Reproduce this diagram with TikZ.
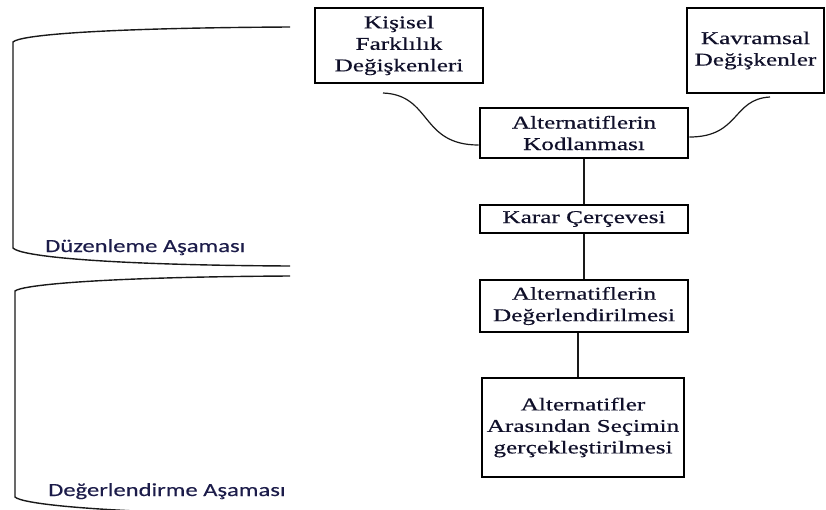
\documentclass[tikz,border=0pt]{standalone}
\usepackage{fontspec}
\setmainfont{Liberation Serif}
\newfontfamily\boxfont[FakeStretch=1.4,FakeBold=0.5]{Liberation Serif}
\newfontfamily\phasefont[FakeStretch=1.33,FakeBold=0.3]{Carlito}
\definecolor{ink}{HTML}{10102A}
\definecolor{phaseink}{HTML}{1C1C4A}

\tikzset{
  stage/.style={draw=black, line width=2.8pt, fill=white, align=center,
    inner sep=1pt, text=ink, font=\boxfont\fontsize{18}{21.5}\selectfont},
  link/.style={line width=1.2pt, draw=black!90},
  brace/.style={line width=1.4pt, draw=black!90},
  phase/.style={anchor=base west, inner sep=0pt, text=phaseink,
    font=\phasefont\fontsize{18.5}{20}\selectfont}
}

\begin{document}
\begin{tikzpicture}[x=1pt, y=-1pt]
\useasboundingbox (0,0) rectangle (826,509);
\clip (0,0) rectangle (826,509);

% boxes of the decision process
\node[stage, minimum width=168pt, minimum height=75pt] (kisisel) at (399,45.5)
  {Kişisel\\Farklılık\\Değişkenleri};
\node[stage, minimum width=137pt, minimum height=85pt] (kavramsal) at (755.5,50.5)
  {Kavramsal\\Değişkenler};
\node[stage, minimum width=208pt, minimum height=50pt] (kodlama) at (584,133)
  {Alternatiflerin\\Kodlanması};
\node[stage, minimum width=208pt, minimum height=28pt] (karar) at (584,219)
  {Karar Çerçevesi};
\node[stage, minimum width=208pt, minimum height=52pt] (deger) at (584,306)
  {Alternatiflerin\\Değerlendirilmesi};
\node[stage, minimum width=202pt, minimum height=99pt] (secim) at (583,427.5)
  {Alternatifler\\Arasından Seçimin\\gerçekleştirilmesi};

% curved feeds into the coding step
\coordinate (kfTail) at (383,93);
\coordinate (kvTail) at (770,97);
\draw[link] (kfTail) .. controls (432,95) and (420,145) .. ([yshift=-12pt]kodlama.west);
\draw[link] (kvTail) .. controls (732,99) and (740,137) .. ([yshift=-4pt]kodlama.east);

% vertical chain
\draw[link] (kodlama.south) -- (karar.north);
\draw[link] (karar.south) -- (deger.north);
\draw[link] ([xshift=-6pt]deger.south) -- ([xshift=-6pt]deger.south |- secim.north);

% phase brackets
\draw[brace] (290,27) .. controls (100,28) and (20,35) .. (13,42)
  -- (13,248) .. controls (20,256) and (100,265) .. (290,266);
\draw[brace] (290,276) .. controls (100,277) and (22,285) .. (15,291)
  -- (15,497) .. controls (22,504) and (100,513) .. (290,515);

\node[phase] (duzen) at (45,252) {Düzenleme Aşaması};
\node[phase] (degerlendirme) at (48,496) {Değerlendirme Aşaması};
\end{tikzpicture}
\end{document}
